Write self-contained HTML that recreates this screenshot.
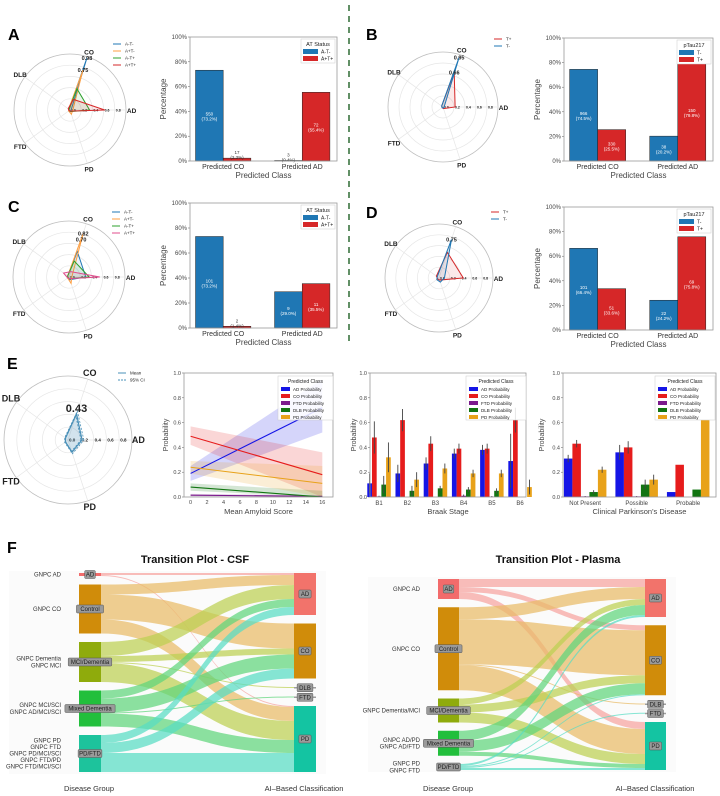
<!DOCTYPE html>
<html><head><meta charset="utf-8">
<style>
html,body{margin:0;padding:0;background:#fff;}
svg{display:block;font-family:"Liberation Sans",sans-serif;}
</style></head>
<body>
<svg id="fig" width="720" height="796" viewBox="0 0 720 796" xmlns="http://www.w3.org/2000/svg">
<rect x="0" y="0" width="720" height="796" fill="#fff"/>
<line x1="349" y1="5" x2="349" y2="345" stroke="#2e6b34" stroke-width="1.5" stroke-dasharray="6,5"/>
</svg>
<script>
// ---------- data ----------
const radarAxes=['AD','CO','DLB','FTD','PD'];
const radarANames=['A-T-','A+T-','A-T+','A+T+'];
const radarAVals=[[0.02,0.98,0.02,0.02,0.02],[0.05,0.75,0.03,0.03,0.08],[0.35,0.4,0.02,0.02,0.03],[0.62,0.2,0.04,0.02,0.02]];
const radarBNames=['T+','T-'];
const radarBVals=[[0.22,0.66,0.03,0.02,0.03],[0.02,0.95,0.03,0.02,0.02]];
const radarCNames=['A-T-','A+T-','A-T+','A+T+'];
const radarCVals=[[0.3,0.48,0.03,0.02,0.05],[0.05,0.82,0.03,0.03,0.12],[0.36,0.3,0.03,0.02,0.03],[0.55,0.1,0.12,0.03,0.03]];
const radarDNames=['T+','T-'];
const radarDVals=[[0.45,0.5,0.06,0.03,0.04],[0.1,0.75,0.04,0.05,0.08]];
const radarEVals=[0.22,0.43,0.05,0.05,0.2];

const barCats=['Predicted CO','Predicted AD'];
const barANames=['A-T-','A+T+'];
const barAPct=[[73.2,0.4],[2.3,55.4]];
const barACount=[[550,3],[17,72]];
const barBNames=['T-','T+'];
const barBPct=[[74.5,20.2],[25.5,79.8]];
const barBCount=[[966,38],[330,150]];
const barCNames=['A-T-','A+T+'];
const barCPct=[[73.2,29.0],[1.4,35.5]];
const barCCount=[[101,9],[2,11]];
const barDNames=['T-','T+'];
const barDPct=[[66.4,24.2],[33.6,75.8]];
const barDCount=[[101,22],[51,69]];
const pctTicks=[0,20,40,60,80,100];

const probNames=['AD Probability','CO Probability','FTD Probability','DLB Probability','PD Probability'];
const lineX=[0,16];
const lineMean=[[0.19,0.72],[0.49,0.18],[0.015,0.005],[0.08,-0.01],[0.24,0.11]];
const lineLo=[[0.13,0.52],[0.42,0.0],[0.005,0.0],[0.05,0.0],[0.19,0.0]];
const lineHi=[[0.25,0.95],[0.57,0.36],[0.025,0.015],[0.11,0.05],[0.29,0.25]];
const lineXTicks=[0,2,4,6,8,10,12,14,16];
const probTicks=[0,0.2,0.4,0.6,0.8,1.0];

const braakCats=['B1','B2','B3','B4','B5','B6'];
const braakVals=[[0.11,0.19,0.27,0.35,0.38,0.29],[0.48,0.62,0.43,0.39,0.39,0.62],[0.005,0,0,0.01,0.003,0],[0.10,0.05,0.07,0.06,0.05,0],[0.32,0.14,0.23,0.19,0.19,0.08]];
const braakErr=[[0.08,0.07,0.05,0.04,0.04,0.22],[0.13,0.09,0.06,0.04,0.04,0.1],[0.005,0,0,0.01,0.005,0],[0.07,0.04,0.02,0.02,0.02,0],[0.12,0.06,0.04,0.03,0.03,0.06]];
const pdCats=['Not Present','Possible','Probable'];
const pdVals=[[0.31,0.36,0.04],[0.43,0.40,0.26],[0.005,0.005,0],[0.04,0.10,0.06],[0.22,0.14,0.62]];
const pdErr=[[0.03,0.06,0],[0.03,0.05,0],[0.003,0.003,0],[0.015,0.04,0],[0.025,0.04,0]];

const sankLeftCSF=['AD','Control','MCI/Dementia','Mixed Dementia','PD/FTD'];
const sankRightCSF=['AD','CO','DLB','FTD','PD'];
const sankLeftLabelsCSF=[['GNPC AD'],['GNPC CO'],['GNPC Dementia','GNPC MCI'],['GNPC MCI/SCI','GNPC AD/MCI/SCI'],['GNPC PD','GNPC FTD','GNPC PD/MCI/SCI','GNPC FTD/PD','GNPC FTD/MCI/SCI']];
const sankFlowsCSF=[[0,0,2],[0,4,1],[1,0,10],[1,1,25],[1,4,14],[2,0,14],[2,1,6],[2,2,1],[2,4,19],[3,0,8],[3,1,14],[3,3,1],[3,4,13],[4,0,8],[4,1,10],[4,4,19]];
const sankLeftPl=['AD','Control','MCI/Dementia','Mixed Dementia','PD/FTD'];
const sankRightPl=['AD','CO','DLB','FTD','PD'];
const sankLeftLabelsPl=[['GNPC AD'],['GNPC CO'],['GNPC Dementia/MCI'],['GNPC AD/PD','GNPC AD/FTD'],['GNPC PD','GNPC FTD']];
const sankFlowsPl=[[0,0,8],[0,1,5],[0,4,7],[1,0,12],[1,1,45],[1,2,1],[1,4,25],[2,0,6],[2,1,8],[2,4,10],[3,0,10],[3,1,11],[3,4,4],[4,0,2],[4,1,1],[4,3,1],[4,4,2]];

// ---------- helpers ----------
const NS='http://www.w3.org/2000/svg';
const svg=document.getElementById('fig');
function mk(tag,attrs,parent,name){
  const e=document.createElementNS(NS,tag);
  for(const k in attrs)e.setAttribute(k,attrs[k]);
  
  
  (parent||svg).appendChild(e);return e;
}
function txt(x,y,s,size,parent,name,extra){
  const t=mk('text',Object.assign({x:x,y:y,'font-size':size,fill:'#222'},extra||{}),parent,name);
  t.textContent=s;return t;
}
function lin(d0,d1,r0,r1){return v=>r0+(v-d0)/(d1-d0)*(r1-r0);}

[['A',8,40],['B',366,40],['C',8,212],['D',366,218],['E',7,369],['F',7,553]].forEach(p=>{
  txt(p[1],p[2],p[0],16,svg,'panel-label-'+p[0].toLowerCase(),{'font-weight':'bold',fill:'#000'});
});

// ---------- radar ----------
function radar(id,cx,cy,R,names,vals,colors,annot,leg,big){
  const g=mk('g',{},svg,'radar-'+id);
  const ang=k=>k*72*Math.PI/180;
  const P=(r,k)=>[cx+r*R*Math.cos(ang(k)),cy-r*R*Math.sin(ang(k))];
  [0.2,0.4,0.6,0.8].forEach(r=>mk('circle',{cx:cx,cy:cy,r:r*R,fill:'none',stroke:'#e6e6e6','stroke-width':0.7},g,'radar-grid-ring'));
  mk('circle',{cx:cx,cy:cy,r:R,fill:'none',stroke:'#bdbdbd','stroke-width':0.8},g,'radar-outer-ring');
  radarAxes.forEach((a,k)=>{
    const p=P(1,k);
    mk('line',{x1:cx,y1:cy,x2:p[0],y2:p[1],stroke:'#e6e6e6','stroke-width':0.7},g,'radar-spoke');
    const q=P(1.1,k);
    txt(q[0],q[1]+3,a,big?9:6.5,g,'radar-axis-label-'+a.toLowerCase(),{'font-weight':'bold','text-anchor':'middle'});
  });
  ['0.0','0.2','0.4','0.6','0.8'].forEach((t,i)=>{
    txt(cx+i*0.2*R+1,cy+1.5,t,big?4.5:3.5,g,'radar-tick-label',{'font-weight':'bold'});
  });
  vals.forEach((v,si)=>{
    const pts=v.map((r,k)=>P(r,k).join(',')).join(' ');
    mk('polygon',{points:pts,fill:colors[si],'fill-opacity':big?0.25:0.1,stroke:colors[si],'stroke-width':big?1.2:1},g,'radar-series-'+(names[si]||'mean'));
    if(big){
      const pts2=v.map((r,k)=>P(r*1.08+0.01,k).join(',')).join(' ');
      mk('polygon',{points:pts2,fill:'none',stroke:colors[si],'stroke-width':0.8,'stroke-dasharray':'2,1.5'},g,'radar-ci-upper');
      const pts3=v.map((r,k)=>P(r*0.92,k).join(',')).join(' ');
      mk('polygon',{points:pts3,fill:'none',stroke:colors[si],'stroke-width':0.8,'stroke-dasharray':'2,1.5'},g,'radar-ci-lower');
    }
  });
  annot.forEach(a=>{
    const p=P(a,1);
    txt(p[0],p[1]+(big?-2:2),a.toFixed(2),big?11:5.5,g,'radar-value-annotation',{'font-weight':'bold','text-anchor':'middle'});
  });
  const lg=mk('g',{},g,'radar-legend');
  const ln=big?['Mean','95% CI']:names;
  ln.forEach((n,i)=>{
    const y=leg[1]+i*7;
    mk('line',{x1:leg[0],y1:y,x2:leg[0]+8,y2:y,stroke:big?'#4a90b8':colors[i],'stroke-width':1,'stroke-dasharray':(big&&i==1)?'2,1':'none'},lg,'radar-legend-swatch');
    txt(leg[0]+12,y+1.6,n,4.5,lg,'radar-legend-entry');
  });
}
radar('a',70,110,56,radarANames,radarAVals,['#1f77b4','#ff9f40','#2ca02c','#d62728'],[0.98,0.75],[113,44],false);
radar('b',443,107,55,radarBNames,radarBVals,['#d62728','#1f77b4'],[0.95,0.66],[494,39],false);
radar('c',69,277,56,radarCNames,radarCVals,['#1f77b4','#ff9f40','#2ca02c','#e04c8c'],[0.82,0.70],[112,212],false);
radar('d',439,278,54,radarDNames,radarDVals,['#d62728','#1f77b4'],[0.75],[491,212],false);
radar('e',68,440,64,['mean'],[radarEVals],['#4a90b8'],[0.43],[118,373],true);

// ---------- grouped percent bars ----------
function pctBars(id,x0,x1,yT,yB,names,pct,cnt,legTitle){
  const g=mk('g',{},svg,'bar-chart-'+id);
  const X=lin(-0.42,1.44,x0,x1), Y=lin(0,100,yB,yT);
  const cols=['#1f77b4','#d62728'];
  pctTicks.forEach(t=>{
    txt(x0-3,Y(t)+2,t+'%',6,g,'y-tick-label',{'text-anchor':'end',fill:'#444'});
    mk('line',{x1:x0-2,y1:Y(t),x2:x0,y2:Y(t),stroke:'#555','stroke-width':0.5},g,'y-tick');
  });
  barCats.forEach((c,ci)=>{
    names.forEach((n,si)=>{
      const bw=0.35*(x1-x0)/1.86;
      const bx=X(ci)+(si-1)*bw;
      const v=pct[si][ci];
      mk('rect',{x:bx,y:Y(v),width:bw,height:Y(0)-Y(v),fill:cols[si],stroke:'#222','stroke-width':0.5},g,'bar-'+c.split(' ')[1].toLowerCase()+'-'+n);
      const ty=v>8?Y(v/2):Y(v)-4;
      txt(bx+bw/2,ty,String(cnt[si][ci]),4.5,g,'bar-count-label',{'text-anchor':'middle',fill:v>8?'#fff':'#333'});
      txt(bx+bw/2,ty+5,'('+v.toFixed(1)+'%)',4.5,g,'bar-pct-label',{'text-anchor':'middle',fill:v>8?'#fff':'#333'});
    });
    txt(X(ci),yB+8,c,7,g,'x-tick-label',{'text-anchor':'middle',fill:'#333'});
  });
  mk('rect',{x:x0,y:yT,width:x1-x0,height:yB-yT,fill:'none',stroke:'#999','stroke-width':0.8},g,'plot-frame');
  txt((x0+x1)/2,yB+17,'Predicted Class',8,g,'x-axis-title',{'text-anchor':'middle',fill:'#444'});
  txt(0,0,'Percentage',8,g,'y-axis-title',{'text-anchor':'middle',fill:'#444',transform:'translate('+(x0-24)+','+((yT+yB)/2)+') rotate(-90)'});
  const lg=mk('g',{},g,'bar-legend');
  mk('rect',{x:x1-36,y:yT+2,width:34,height:24,fill:'#fff',stroke:'#ccc','stroke-width':0.5},lg,'legend-box');
  txt(x1-19,yT+9,legTitle,5.5,lg,'legend-title',{'text-anchor':'middle'});
  names.forEach((n,i)=>{
    mk('rect',{x:x1-34,y:yT+12+i*7,width:15,height:5,fill:cols[i]},lg,'legend-swatch');
    txt(x1-16,yT+16.5+i*7,n,5,lg,'legend-entry');
  });
}
pctBars('a',190,337,37,161,barANames,barAPct,barACount,'AT Status');
pctBars('b',564,713,38,161,barBNames,barBPct,barBCount,'pTau217');
pctBars('c',190,337,203,328,barCNames,barCPct,barCCount,'AT Status');
pctBars('d',564,713,207,330,barDNames,barDPct,barDCount,'pTau217');

// ---------- probability axes ----------
const probCols=['#1515e6','#e61c1c','#7b1a8c','#127512','#e8a21a'];
function probAxes(g,x0,x1,yT,yB,ytitleX){
  const Y=lin(0,1,yB,yT);
  probTicks.forEach(t=>{
    txt(x0-3,Y(t)+2,t.toFixed(1),5.5,g,'y-tick-label',{'text-anchor':'end',fill:'#444'});
    mk('line',{x1:x0-2,y1:Y(t),x2:x0,y2:Y(t),stroke:'#555','stroke-width':0.5},g,'y-tick');
  });
  txt(0,0,'Probability',7,g,'y-axis-title',{'text-anchor':'middle',fill:'#444',transform:'translate('+ytitleX+','+((yT+yB)/2)+') rotate(-90)'});
  return Y;
}
function probLegend(g,x,y,w){
  const lg=mk('g',{},g,'prob-legend');
  mk('rect',{x:x,y:y,width:w,height:44,fill:'#fff','fill-opacity':0.85,stroke:'#ccc','stroke-width':0.5},lg,'legend-box');
  txt(x+w/2,y+7,'Predicted Class',5,lg,'legend-title',{'text-anchor':'middle'});
  probNames.forEach((n,i)=>{
    mk('rect',{x:x+3,y:y+11+i*7,width:9,height:4,fill:probCols[i]},lg,'legend-swatch');
    txt(x+15,y+15+i*7,n,4.5,lg,'legend-entry');
  });
}
(function(){
  const g=mk('g',{},svg,'line-chart-amyloid');
  const x0=184,x1=333,yT=373,yB=497;
  const X=lin(-0.8,17.3,x0,x1);
  const Y=probAxes(g,x0,x1,yT,yB,168);
  const cp=mk('clipPath',{id:'clipL'},g,'clip');
  mk('rect',{x:x0,y:yT,width:x1-x0,height:yB-yT},cp,'clip-rect');
  const pg=mk('g',{'clip-path':'url(#clipL)'},g,'line-series');
  [0,1,2,3,4].forEach(i=>{
    const d='M'+X(lineX[0])+','+Y(lineHi[i][0])+' L'+X(lineX[1])+','+Y(lineHi[i][1])+' L'+X(lineX[1])+','+Y(lineLo[i][1])+' L'+X(lineX[0])+','+Y(lineLo[i][0])+'Z';
    mk('path',{d:d,fill:probCols[i],'fill-opacity':0.18},pg,'ci-band-'+probNames[i].split(' ')[0].toLowerCase());
  });
  [0,1,2,3,4].forEach(i=>{
    mk('line',{x1:X(lineX[0]),y1:Y(lineMean[i][0]),x2:X(lineX[1]),y2:Y(Math.max(lineMean[i][1],0)),stroke:probCols[i],'stroke-width':1.1},pg,'trend-line-'+probNames[i].split(' ')[0].toLowerCase());
  });
  lineXTicks.forEach(t=>{
    txt(X(t),yB+7,String(t),5.5,g,'x-tick-label',{'text-anchor':'middle',fill:'#444'});
  });
  mk('rect',{x:x0,y:yT,width:x1-x0,height:yB-yT,fill:'none',stroke:'#999','stroke-width':0.8},g,'plot-frame');
  txt((x0+x1)/2,yB+17,'Mean Amyloid Score',7.5,g,'x-axis-title',{'text-anchor':'middle',fill:'#444'});
  probLegend(g,278,376,55);
})();
function probBars(id,cats,vals,errs,x0,x1,d0,d1,bw,yT,yB,ytx,xtitle,legX){
  const g=mk('g',{},svg,'bar-chart-'+id);
  const Y=probAxes(g,x0,x1,yT,yB,ytx);
  const X=lin(d0,d1,x0,x1);
  cats.forEach((c,ci)=>{
    for(let si=0;si<5;si++){
      const bx=X(ci)+(si-2.5)*bw;
      const v=vals[si][ci];
      mk('rect',{x:bx,y:Y(Math.min(v,1)),width:bw,height:Y(0)-Y(Math.min(v,1)),fill:probCols[si]},g,'bar-'+c.replace(/ /g,'-').toLowerCase()+'-'+probNames[si].split(' ')[0].toLowerCase());
      const e=errs[si][ci];
      if(e>0)mk('line',{x1:bx+bw/2,y1:Y(v-e),x2:bx+bw/2,y2:Y(Math.min(v+e,1)),stroke:'#444','stroke-width':0.9},g,'error-bar');
    }
    txt(X(ci),yB+8,c,6,g,'x-tick-label',{'text-anchor':'middle',fill:'#444'});
  });
  mk('rect',{x:x0,y:yT,width:x1-x0,height:yB-yT,fill:'none',stroke:'#999','stroke-width':0.8},g,'plot-frame');
  txt((x0+x1)/2,yB+17,xtitle,7.5,g,'x-axis-title',{'text-anchor':'middle',fill:'#444'});
  probLegend(g,legX,376,60);
}
probBars('braak',braakCats,braakVals,braakErr,370,526,-0.32,5.21,4.7,373,497,356,'Braak Stage',466);
probBars('parkinson',pdCats,pdVals,pdErr,563,716,-0.43,2.54,8.5,373,497,544,"Clinical Parkinson's Disease",655);

// ---------- sankey ----------
const leftCols=['#f26b6b','#d08c0a','#8fab0c','#22bf3c','#1dc39c'];
const flowCols=['#f7a3a0','#e9bb66','#bcd052','#5fd67c','#58dcc4'];
const rightCols=['#f2736b','#d08c0a','#9e9e9e','#9e9e9e','#14c4a2'];
function sankey(id,title,tx,xl,xr,nw,yT,yB,lnames,rnames,llabels,flows,labelX){
  const g=mk('g',{},svg,'sankey-'+id);
  txt(tx,563,title,11,g,'sankey-title',{'text-anchor':'middle','font-weight':'bold',fill:'#111'});
  mk('rect',{x:xl-70,y:yT-2,width:xr+nw-xl+80,height:yB-yT+4,fill:'#fbfbfb'},g,'sankey-background');
  const lt=lnames.map(()=>0), rt=rnames.map(()=>0);
  flows.forEach(f=>{lt[f[0]]+=f[2];rt[f[1]]+=f[2];});
  const tot=lt.reduce((a,b)=>a+b,0);
  const span=yB-yT, sc=1.0;
  const gl=(span-tot*sc)/(lnames.length-1), gr=(span-tot*sc)/(rnames.length-1);
  const ly=[],ry=[];let y=yT;
  lt.forEach(v=>{ly.push(y);y+=v*sc+gl;});
  y=yT;rt.forEach(v=>{ry.push(y);y+=v*sc+gr;});
  const lo=ly.slice(), ro=ry.slice();
  const fl=mk('g',{},g,'sankey-flows');
  const rOff={};
  const byTarget=flows.slice().sort((a,b)=>a[1]-b[1]||a[0]-b[0]);
  byTarget.forEach(f=>{rOff[f[0]+'-'+f[1]]=ro[f[1]];ro[f[1]]+=f[2]*sc;});
  flows.forEach(f=>{
    const h=f[2]*sc, y0=lo[f[0]], y1=rOff[f[0]+'-'+f[1]];
    lo[f[0]]+=h;
    const xa=xl+nw, xb=xr, xm=(xa+xb)/2;
    const d='M'+xa+','+y0+' C'+xm+','+y0+' '+xm+','+y1+' '+xb+','+y1+' L'+xb+','+(y1+h)+' C'+xm+','+(y1+h)+' '+xm+','+(y0+h)+' '+xa+','+(y0+h)+'Z';
    mk('path',{d:d,fill:flowCols[f[0]],'fill-opacity':0.72},fl,'flow-'+lnames[f[0]].toLowerCase().replace(/[ \/]/g,'-')+'-to-'+rnames[f[1]].toLowerCase());
  });
  lnames.forEach((n,i)=>{
    const h=lt[i]*sc;
    mk('rect',{x:xl,y:ly[i],width:nw,height:h,fill:leftCols[i]},g,'source-node-'+n.toLowerCase().replace(/[ \/]/g,'-'));
    const w=n.length*3.3+4, cy=ly[i]+h/2;
    mk('rect',{x:xl+nw/2-w/2,y:cy-4,width:w,height:8,fill:'#9a9a9a',stroke:'#555','stroke-width':0.5,rx:1},g,'source-node-label-box');
    txt(xl+nw/2,cy+2.2,n,6,g,'source-node-label',{'text-anchor':'middle',fill:'#222'});
    const L=llabels[i];
    L.forEach((s,j)=>txt(labelX,cy+2-(L.length-1)*3.3+j*6.6,s,6,g,'group-label',{'text-anchor':'end',fill:'#333'}));
  });
  rnames.forEach((n,i)=>{
    const h=Math.max(rt[i]*sc,1.5);
    mk('rect',{x:xr,y:ry[i],width:nw,height:h,fill:rightCols[i]},g,'target-node-'+n.toLowerCase());
    const w=n.length*3.6+5, cy=ry[i]+h/2;
    mk('rect',{x:xr+nw/2-w/2,y:cy-4,width:w,height:8,fill:'#9a9a9a',stroke:'#555','stroke-width':0.5,rx:1},g,'target-node-label-box');
    txt(xr+nw/2,cy+2.2,n,6,g,'target-node-label',{'text-anchor':'middle',fill:'#222'});
  });
  txt(xl+10,791,'Disease Group',7.5,g,'sankey-left-axis-title',{'text-anchor':'middle',fill:'#333'});
  txt(xr+10,791,'AI\u2013Based Classification',7.5,g,'sankey-right-axis-title',{'text-anchor':'middle',fill:'#333'});
}
sankey('csf','Transition Plot - CSF',195,79,294,22,573,772,sankLeftCSF,sankRightCSF,sankLeftLabelsCSF,sankFlowsCSF,61);
sankey('plasma','Transition Plot - Plasma',558,438,645,21,579,770,sankLeftPl,sankRightPl,sankLeftLabelsPl,sankFlowsPl,420);
</script>
</body></html>
